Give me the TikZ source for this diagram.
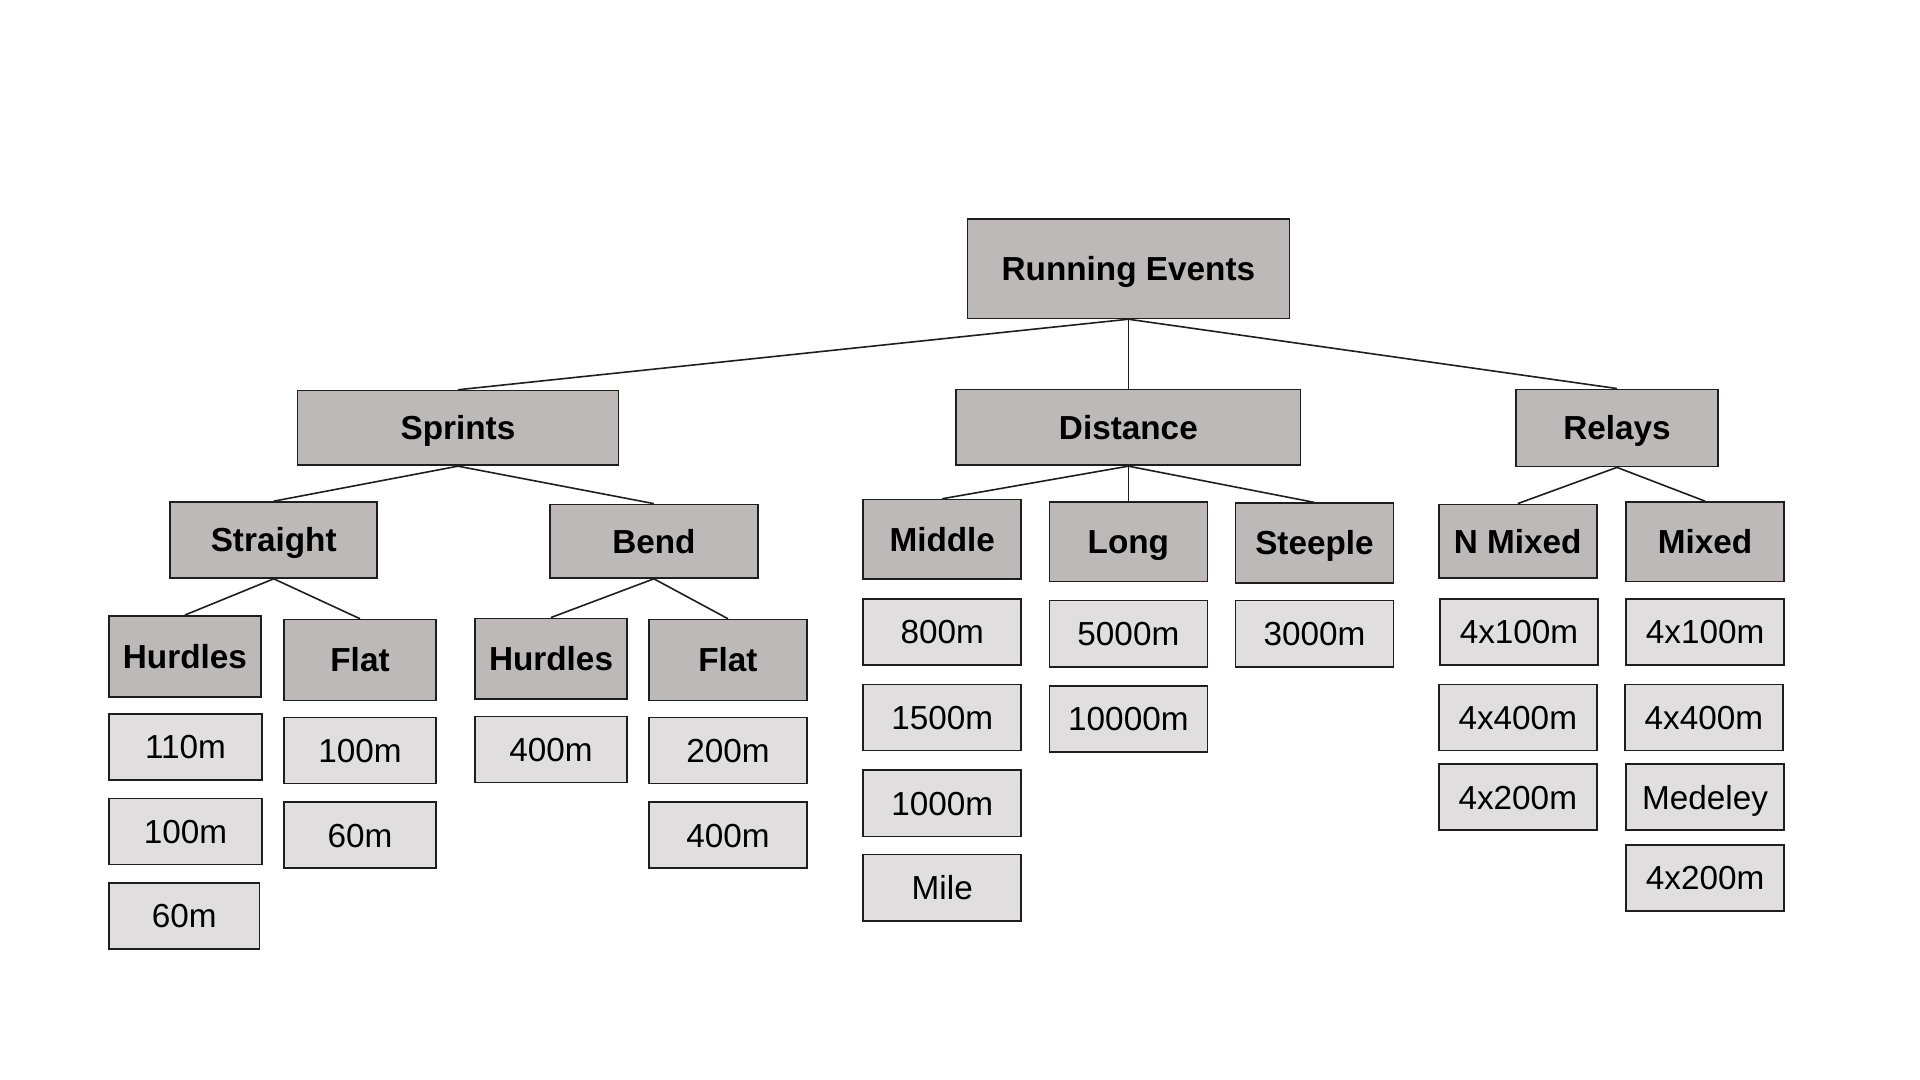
\documentclass[tikz,border=0pt]{standalone}
\usepackage{fontspec}
\setmainfont{Liberation Sans}
\definecolor{catfill}{HTML}{BDB9B8}
\definecolor{leaffill}{HTML}{E0DEDE}
\definecolor{edge}{HTML}{1E1E1E}
\tikzset{
  bw/.style={minimum width=#1*0.5pt},
  bh/.style={minimum height=#1*0.5pt},
  cat/.style={draw=edge, fill=catfill, line width=0.7pt, inner sep=0pt,
    text height=9.74pt, text depth=0pt,
    font=\bfseries\fontsize{13.6}{16}\selectfont},
  leaf/.style={draw=edge, fill=leaffill, line width=0.65pt, inner sep=0pt, bh=54,
    text height=9.74pt, text depth=0pt,
    font=\fontsize{13.6}{16}\selectfont},
  link/.style={draw=edge, line width=0.65pt}
}
\begin{document}
\begin{tikzpicture}[x=0.5pt,y=-0.5pt]
\fill[white] (0,0) rectangle (1568,882);
\useasboundingbox (0,0) rectangle (1568,882);
% categories
\node[cat,bw=263,bh=81] (run) at (921.5,219.5) {Running Events};
\node[cat,bw=262,bh=61] (spr) at (374,349.5) {Sprints};
\node[cat,bw=281,bh=62] (dis) at (921.5,349) {Distance};
\node[cat,bw=165,bh=63] (rel) at (1320.5,349.5) {Relays};
\node[cat,bw=169,bh=62] (str) at (223.5,441) {Straight};
\node[cat,bw=170,bh=60] (ben) at (534,442) {Bend};
\node[cat,bw=124,bh=66] (hur1) at (151,536) {Hurdles};
\node[cat,bw=124,bh=66] (fla1) at (294,539) {Flat};
\node[cat,bw=124,bh=66] (hur2) at (450,538) {Hurdles};
\node[cat,bw=129,bh=66] (fla2) at (594.5,539) {Flat};
\node[cat,bw=129,bh=65] (mid) at (769.5,440.5) {Middle};
\node[cat,bw=129,bh=65] (lon) at (921.5,442.5) {Long};
\node[cat,bw=129,bh=65] (ste) at (1073.5,443.5) {Steeple};
\node[cat,bw=129,bh=60] (nmx) at (1239.5,442) {N Mixed};
\node[cat,bw=129,bh=65] (mix) at (1392.5,442.5) {Mixed};
% leaves
\node[leaf,bw=125] (h110) at (151.5,610) {110m};
\node[leaf,bw=125] (h100) at (151.5,679) {100m};
\node[leaf,bw=123] (h60) at (150.5,748) {60m};
\node[leaf,bw=124] (f100) at (294,613) {100m};
\node[leaf,bw=124] (f60) at (294,682) {60m};
\node[leaf,bw=124] (bh400) at (450,612) {400m};
\node[leaf,bw=129] (bf200) at (594.5,613) {200m};
\node[leaf,bw=129] (bf400) at (594.5,682) {400m};
\node[leaf,bw=129] (m800) at (769.5,516) {800m};
\node[leaf,bw=129] (m1500) at (769.5,586) {1500m};
\node[leaf,bw=129] (m1000) at (769.5,656) {1000m};
\node[leaf,bw=129] (mile) at (769.5,725) {Mile};
\node[leaf,bw=129] (l5000) at (921.5,517.5) {5000m};
\node[leaf,bw=129] (l10000) at (921.5,587) {10000m};
\node[leaf,bw=129] (s3000) at (1073.5,517.5) {3000m};
\node[leaf,bw=129] (n100) at (1240.5,516) {4x100m};
\node[leaf,bw=129] (n400) at (1239.5,586) {4x400m};
\node[leaf,bw=129] (n200) at (1239.5,651) {4x200m};
\node[leaf,bw=129] (x100) at (1392.5,516) {4x100m};
\node[leaf,bw=129] (x400) at (1391.5,586) {4x400m};
\node[leaf,bw=129] (xmed) at (1392.5,651) {Medeley};
\node[leaf,bw=129] (x200) at (1392.5,717) {4x200m};
% connectors
\draw[link] (run.south) -- (spr.north);
\draw[link] (run.south) -- (dis.north);
\draw[link] (run.south) -- (rel.north);
\draw[link] (spr.south) -- (str.north);
\draw[link] (spr.south) -- (ben.north);
\draw[link] (str.south) -- (hur1.north);
\draw[link] (str.south) -- (fla1.north);
\draw[link] (ben.south) -- (hur2.north);
\draw[link] (ben.south) -- (fla2.north);
\draw[link] (dis.south) -- (mid.north);
\draw[link] (dis.south) -- (lon.north);
\draw[link] (dis.south) -- (ste.north);
\draw[link] (rel.south) -- (nmx.north);
\draw[link] (rel.south) -- (mix.north);
\end{tikzpicture}
\end{document}
